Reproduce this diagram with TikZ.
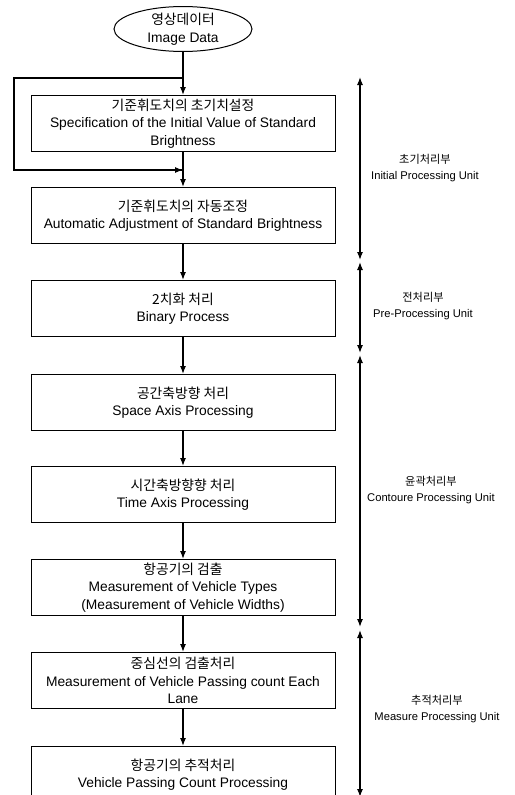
\documentclass[tikz,border=0pt]{standalone}
\usepackage{fontspec}
\setmainfont{Liberation Sans}
\newfontfamily\kr{Noto Sans CJK KR}
\usetikzlibrary{arrows.meta, positioning, shapes.geometric}

\begin{document}
\begin{tikzpicture}[
    x=1pt, y=1pt,
    % Define box styles
    procbox/.style={
        rectangle,
        draw=black,
        line width=1pt,
        minimum width=304pt,
        minimum height=56pt,
        inner sep=2pt,
        align=center,
        font=\fontsize{13.8}{17.5}\selectfont
    },
    datanode/.style={
        ellipse,
        draw=black,
        line width=1pt,
        minimum width=138pt,
        minimum height=43pt,
        inner sep=0pt,
        align=center,
        font=\fontsize{13.8}{17.5}\selectfont
    },
    unitlabel/.style={
        align=center,
        font=\fontsize{11.2}{16.5}\selectfont
    },
    flow/.style={-{Latex[length=8pt,width=6pt]}, line width=1.2pt},
    span/.style={{Latex[length=8pt,width=6pt]}-{Latex[length=8pt,width=6pt]}, line width=1.2pt}
]
    \useasboundingbox (0,0) rectangle (514,-795);

    % =================================================================
    % --- Main flow ---
    % =================================================================
    \node[datanode] (img) at (183,-29) {{\kr 영상데이터}\\Image Data};
    \node[procbox, anchor=north] (initval) at (183,-95)
        {{\kr 기준휘도치의 초기치설정}\\Specification of the Initial Value of Standard\\Brightness};
    \node[procbox, below=35pt of initval] (autoadj)
        {{\kr 기준휘도치의 자동조정}\\Automatic Adjustment of Standard Brightness};
    \node[procbox, below=36pt of autoadj] (binary)
        {{\kr 2치화 처리}\\Binary Process};
    \node[procbox, below=37pt of binary] (spaceax)
        {{\kr 공간축방향 처리}\\Space Axis Processing};
    \node[procbox, below=35pt of spaceax] (timeax)
        {{\kr 시간축방향향 처리}\\Time Axis Processing};
    \node[procbox, below=36pt of timeax] (vtype)
        {{\kr 항공기의 검출}\\Measurement of Vehicle Types\\(Measurement of Vehicle Widths)};
    \node[procbox, below=36pt of vtype] (lanecnt)
        {{\kr 중심선의 검출처리}\\Measurement of Vehicle Passing count Each\\Lane};
    \node[procbox, below=37pt of lanecnt] (passcnt)
        {{\kr 항공기의 추적처리}\\Vehicle Passing Count Processing};

    % Feedback loop
    \coordinate (loopTop) at (initval.north |- 0,-78);
    \coordinate (loopIn) at (initval.south |- 0,-170);
    \draw[line width=1.2pt] (loopTop) -- (14,-78) -- (14,-170) -- ([xshift=-1pt]loopIn);
    \draw[flow] (14,-170) -- (loopIn);

    % Arrows between steps
    \draw[flow] (img.south) -- (initval.north);
    \draw[flow] (initval) -- (autoadj);
    \draw[flow] (autoadj) -- (binary);
    \draw[flow] (binary) -- (spaceax);
    \draw[flow] (spaceax) -- (timeax);
    \draw[flow] (timeax) -- (vtype);
    \draw[flow] (vtype) -- (lanecnt);
    \draw[flow] (lanecnt) -- (passcnt);

    % =================================================================
    % --- Processing units on the right ---
    % =================================================================
    \coordinate (initTop) at (360,-77);
    \coordinate (initBot) at (360,-260);
    \coordinate (preTop) at (360,-262);
    \coordinate (preBot) at (360,-353);
    \coordinate (contTop) at (360,-355);
    \coordinate (contBot) at (360,-627);
    \coordinate (measTop) at (360,-630);
    \coordinate (measBot) at (360,-797);

    \draw[span] (initTop) -- (initBot);
    \draw[span] (preTop) -- (preBot);
    \draw[span] (contTop) -- (contBot);
    \draw[span] (measTop) -- (measBot);

    \node[unitlabel] (initunit) at (425,-168) {{\kr 초기처리부}\\Initial Processing Unit};
    \node[unitlabel] (preunit) at (423,-306) {{\kr 전처리부}\\Pre-Processing Unit};
    \node[unitlabel] (contunit) at (431,-490) {{\kr 윤곽처리부}\\Contoure Processing Unit};
    \node[unitlabel] (measunit) at (437,-709) {{\kr 추적처리부}\\Measure Processing Unit};
\end{tikzpicture}
\end{document}
